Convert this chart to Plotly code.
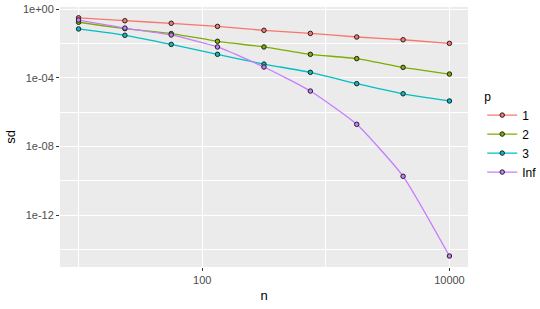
import plotly.graph_objects as go

n_values = [10, 23.7, 56.2, 133, 316, 750, 1778, 4217, 10000]
p_labels = ["1", "2", "3", "Inf"]
log_sd_p1 = [-0.50, -0.67, -0.82, -1.00, -1.23, -1.41, -1.62, -1.78, -1.99]
log_sd_p2 = [-0.76, -1.13, -1.42, -1.87, -2.20, -2.63, -2.88, -3.39, -3.78]
log_sd_p3 = [-1.15, -1.52, -2.05, -2.63, -3.20, -3.68, -4.34, -4.93, -5.35]
log_sd_pinf = [-0.63, -1.10, -1.50, -2.20, -3.37, -4.77, -6.71, -9.74, -14.39]
colors = ["#F8766D", "#7CAE00", "#00BFC4", "#C77CFF"]

series = [log_sd_p1, log_sd_p2, log_sd_p3, log_sd_pinf]

fig = go.Figure()
for lab, vals, col in zip(p_labels, series, colors):
    fig.add_trace(go.Scatter(
        x=n_values, y=[10 ** v for v in vals], name=lab,
        mode="lines+markers",
        line=dict(color=col, width=1.3, shape="spline", smoothing=0.5),
        marker=dict(color=col, size=4.5, line=dict(color="#222222", width=1)),
    ))

font = "Liberation Sans, Arial, sans-serif"
fig.update_layout(
    width=540, height=309,
    margin=dict(l=60, r=72, t=7, b=42, autoexpand=False),
    paper_bgcolor="white", plot_bgcolor="#EBEBEB",
    font=dict(family=font, size=12, color="black"),
    showlegend=True,
    legend=dict(
        title=dict(text="p", font=dict(size=12, color="black")),
        xref="container", yref="container",
        x=0.893, y=0.725, xanchor="left", yanchor="top",
        font=dict(size=12, color="black"),
        bgcolor="rgba(0,0,0,0)", itemwidth=30,
    ),
)
fig.update_xaxes(
    type="log", range=[0.85, 4.15],
    tickmode="array", tickvals=[100, 10000], ticktext=["100", "10000"],
    showgrid=True, gridcolor="white", gridwidth=1.1,
    ticks="outside", ticklen=3, tickcolor="#333333", tickwidth=1,
    tickfont=dict(size=11, color="#4D4D4D"),
    minor=dict(tickmode="array", tickvals=[10, 1000], showgrid=True,
               gridcolor="white", gridwidth=0.5, ticks=""),
    zeroline=False, showline=False,
    title=dict(text="n", font=dict(size=13), standoff=5),
)
fig.update_yaxes(
    type="log", range=[-15.03, 0.13],
    tickmode="array", tickvals=[1, 1e-4, 1e-8, 1e-12],
    ticktext=["1e+00", "1e-04", "1e-08", "1e-12"],
    showgrid=True, gridcolor="white", gridwidth=1.1,
    ticks="outside", ticklen=3, tickcolor="#333333", tickwidth=1,
    tickfont=dict(size=11, color="#4D4D4D"),
    minor=dict(tickmode="array", tickvals=[1e-2, 1e-6, 1e-10, 1e-14], showgrid=True,
               gridcolor="white", gridwidth=0.5, ticks=""),
    zeroline=False, showline=False,
    title=dict(text="sd", font=dict(size=13), standoff=4),
)

fig.write_html("out.html")
